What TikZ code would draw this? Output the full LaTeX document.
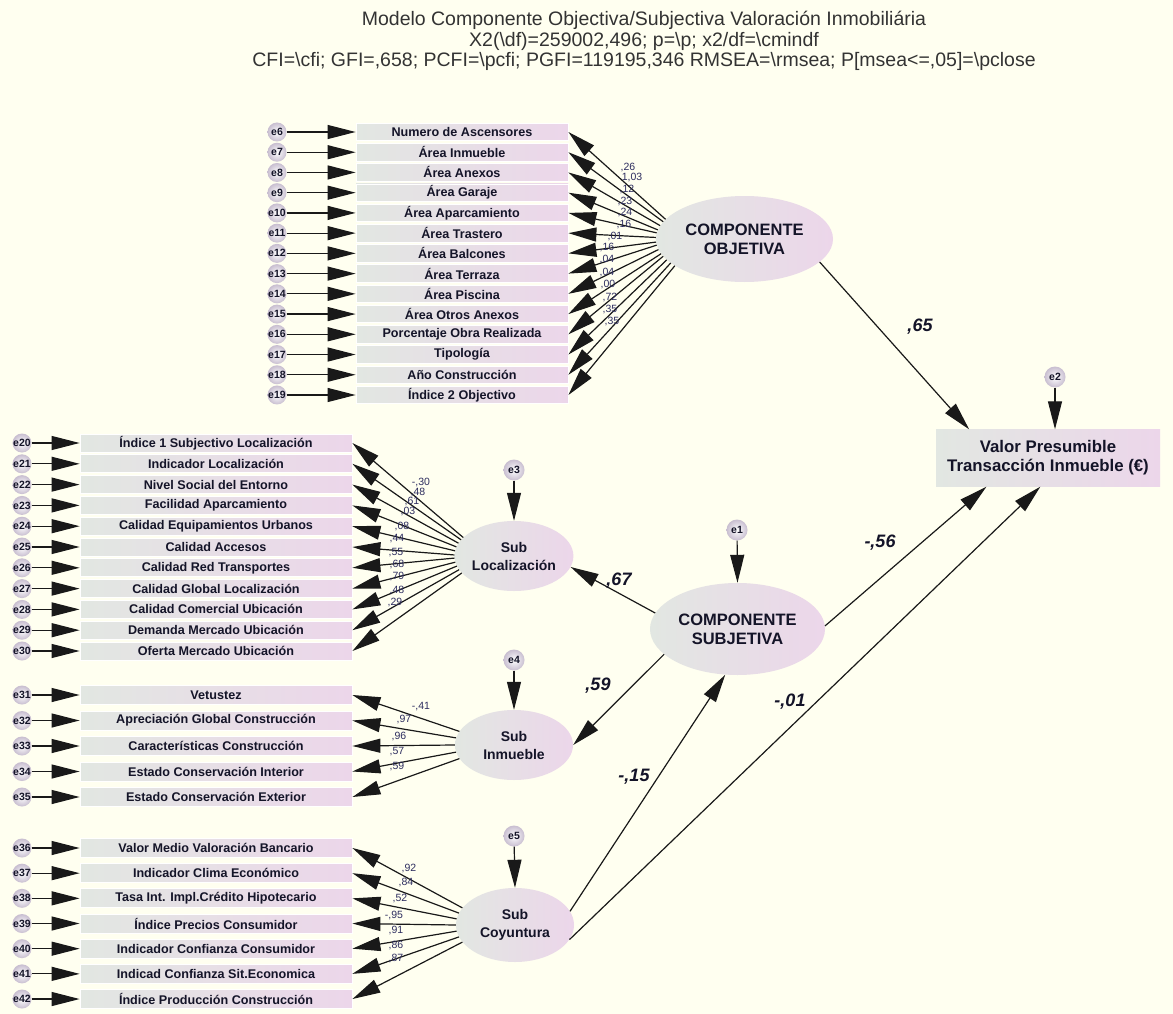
\documentclass[tikz,border=0pt]{standalone}
\usepackage{fontspec}
\setmainfont{Liberation Sans}
\usetikzlibrary{arrows.meta,shapes.geometric,calc}
\definecolor{bgc}{RGB}{255,255,240}
\definecolor{gl}{RGB}{226,231,226}
\definecolor{pk}{RGB}{236,214,234}
\definecolor{ln}{RGB}{25,25,25}
\definecolor{ldc}{RGB}{45,45,95}
\definecolor{txt}{RGB}{20,20,40}
\definecolor{eoc}{RGB}{200,190,208}
\begin{document}
\begin{tikzpicture}[x=1pt,y=-1pt,
  obs/.style={rectangle, left color=gl, right color=pk, draw=white, line width=0.8pt, minimum width=212pt, minimum height=17.5pt, inner sep=0pt, font=\fontsize{12.6}{13}\selectfont\bfseries, text=txt},
  obsw/.style={obs, minimum width=272pt, minimum height=18pt},
  lat/.style={ellipse, left color=gl, right color=pk, draw=none, inner sep=0pt, align=center, font=\fontsize{16.5}{19}\selectfont\bfseries, text=txt},
  sublat/.style={lat, minimum width=118pt, minimum height=70pt, font=\fontsize{14}{18}\selectfont\bfseries},
  err/.style={circle, inner color=white, outer color=eoc, minimum size=19pt, inner sep=0pt, font=\fontsize{10.5}{11}\selectfont\bfseries, text=txt},
  arr/.style={draw=ln, line width=1.2pt, -{Triangle[length=28pt,width=14pt]}},
  ld/.style={font=\fontsize{10.5}{11}\selectfont, text=ldc, inner sep=0pt},
  pathlbl/.style={font=\fontsize{18}{20}\selectfont\bfseries\itshape, text=txt, inner sep=0pt},
  ttl/.style={font=\fontsize{19.5}{21}\selectfont, text=black!80, inner sep=0pt}
]
\fill[bgc] (0,0) rectangle (1173,1014);
\useasboundingbox (0,0) rectangle (1173,1014);

% title
\node[ttl] (t1) at (644,20) {Modelo Componente Objectiva/Subjectiva Valoración Inmobiliária};
\node[ttl] (t2) at (644,41) {X2(\textbackslash df)=259002,496; p=\textbackslash p; x2/df=\textbackslash cmindf};
\node[ttl] (t3) at (644,61) {CFI=\textbackslash cfi; GFI=,658; PCFI=\textbackslash pcfi; PGFI=119195,346 RMSEA=\textbackslash rmsea; P[msea<=,05]=\textbackslash pclose};

% latent variables
\node[lat, minimum width=177pt, minimum height=86pt] (cobj) at (744.5,239) {COMPONENTE\\OBJETIVA};
\node[lat, minimum width=175pt, minimum height=92pt] (csub) at (737.5,629) {COMPONENTE\\SUBJETIVA};
\node[sublat] (sloc) at (514,556) {Sub\\Localización};
\node[sublat] (sinm) at (514,745) {Sub\\Inmueble};
\node[sublat, minimum height=74pt] (scoy) at (515,925) {Sub\\Coyuntura};
\node[rectangle, left color=gl, right color=pk, minimum width=224pt, minimum height=57pt, inner sep=0pt, align=center, font=\fontsize{16.8}{19}\selectfont\bfseries, text=txt] (val) at (1048,458) {Valor Presumible\\Transacción Inmueble (€)};

% disturbances
\node[err, minimum size=21pt] (e1) at (737,530) {e1};
\node[err, minimum size=21pt] (e2) at (1055,377) {e2};
\node[err, minimum size=21pt] (e3) at (514,470) {e3};
\node[err, minimum size=21pt] (e4) at (514,660) {e4};
\node[err, minimum size=21pt] (e5) at (514,836) {e5};
\draw[arr] (e1) -- (csub.north);
\draw[arr] (e2) -- (val.north -| e2);
\draw[arr] (e3) -- (sloc.north);
\draw[arr] (e4) -- (sinm.north);
\draw[arr] (e5) -- (scoy.north);

% objective indicators
\foreach \lab/\ldv/\lx/\ly [count=\i from 0] in {
 Numero de Ascensores/{,26}/628/168,
 Área Inmueble/{1,03}/632/178,
 Área Anexos/{,12}/627/190,
 Área Garaje/{,23}/625/202,
 Área Aparcamiento/{,24}/625/213,
 Área Trastero/{,16}/624/225,
 Área Balcones/{,01}/615/237,
 Área Terraza/{,16}/607/248,
 Área Piscina/{,04}/607/260,
 Área Otros Anexos/{,04}/607/273,
 Porcentaje Obra Realizada/{,00}/608/285,
 Tipología/{,72}/610/298,
 Año Construcción/{,35}/610/310,
 Índice 2 Objectivo/{,35}/612/322}{
  \pgfmathsetmacro\yy{132+20.23*\i}
  \pgfmathtruncatemacro\en{\i+6}
  \pgfmathtruncatemacro\ang{166+\i*35/13}
  \node[obs] (o\i) at (462,\yy) {\lab};
  \node[err] (eo\i) at (277,\yy) {e\en};
  \draw[arr] (eo\i) -- (o\i.west);
  \draw[arr] (cobj.\ang) -- (o\i.east);
  \node[ld] (lo\i) at (\lx,\ly) {\ldv};
}

% localizacion indicators
\foreach \lab/\ldv/\lx/\ly [count=\i from 0] in {
 Índice 1 Subjectivo Localización/{-,30}/421/483,
 Indicador Localización/{,48}/418/493,
 Nivel Social del Entorno/{,61}/412/502,
 Facilidad Aparcamiento/{,03}/408/512,
 Calidad Equipamientos Urbanos/{,08}/402/527,
 Calidad Accesos/{,44}/397/539,
 Calidad Red Transportes/{,55}/396/553,
 Calidad Global Localización/{,68}/397/565,
 Calidad Comercial Ubicación/{,79}/397/577,
 Demanda Mercado Ubicación/{,48}/397/591,
 Oferta Mercado Ubicación/{,29}/395/603}{
  \pgfmathsetmacro\yy{443+20.8*\i}
  \pgfmathtruncatemacro\en{\i+20}
  \pgfmathtruncatemacro\ang{160+\i*3.8}
  \node[obsw] (l\i) at (216,\yy) {\lab};
  \node[err] (el\i) at (22,\yy) {e\en};
  \draw[arr] (el\i) -- (l\i.west);
  \draw[arr] (sloc.\ang) -- (l\i.east);
  \node[ld] (ll\i) at (\lx,\ly) {\ldv};
}

% inmueble indicators
\foreach \lab/\ldv/\lx/\ly [count=\i from 0] in {
 Vetustez/{-,41}/421/707,
 Apreciación Global Construcción/{,97}/404/720,
 Características Construcción/{,96}/399/736,
 Estado Conservación Interior/{,57}/397/752,
 Estado Conservación Exterior/{,59}/397/766}{
  \pgfmathsetmacro\yy{695+25.5*\i}
  \pgfmathtruncatemacro\en{\i+31}
  \pgfmathtruncatemacro\ang{166+\i*7}
  \node[obsw, minimum height=19pt] (m\i) at (216,\yy) {\lab};
  \node[err] (em\i) at (22,\yy) {e\en};
  \draw[arr] (em\i) -- (m\i.west);
  \draw[arr] (sinm.\ang) -- (m\i.east);
  \node[ld] (lm\i) at (\lx,\ly) {\ldv};
}

% coyuntura indicators
\foreach \lab/\ldv/\lx/\ly [count=\i from 0] in {
 Valor Medio Valoración Bancario/{,92}/409/868,
 Indicador Clima Económico/{,84}/406/882,
 Tasa Int. Impl.Crédito Hipotecario/{,52}/400/898,
 Índice Precios Consumidor/{-,95}/394/915,
 Indicador Confianza Consumidor/{,91}/396/930,
 Indicad Confianza Sit.Economica/{,86}/396/945,
 Índice Producción Construcción/{,87}/396/958}{
  \pgfmathsetmacro\yy{848+25.17*\i}
  \pgfmathtruncatemacro\en{\i+36}
  \pgfmathtruncatemacro\ang{162+\i*6}
  \node[obsw, minimum height=19pt] (c\i) at (216,\yy) {\lab};
  \node[err] (ec\i) at (22,\yy) {e\en};
  \draw[arr] (ec\i) -- (c\i.west);
  \draw[arr] (scoy.\ang) -- (c\i.east);
  \node[ld] (lc\i) at (\lx,\ly) {\ldv};
}

% structural paths
\draw[arr] (cobj.-17) -- (val.160);
\draw[arr] (csub.2) -- (val.205);
\draw[arr] (scoy.-15) -- (val.255);
\draw[arr] (scoy.14) -- (csub.255);
\draw[arr] (csub.169) -- (sloc.-11);
\draw[arr] (csub.199) -- (sinm.0);

\node[pathlbl] (p1) at (920,327) {,65};
\node[pathlbl] (p2) at (880,543) {-,56};
\node[pathlbl] (p3) at (790,702) {-,01};
\node[pathlbl] (p4) at (634,777) {-,15};
\node[pathlbl] (p5) at (619,581) {,67};
\node[pathlbl] (p6) at (598,686) {,59};
\end{tikzpicture}
\end{document}
